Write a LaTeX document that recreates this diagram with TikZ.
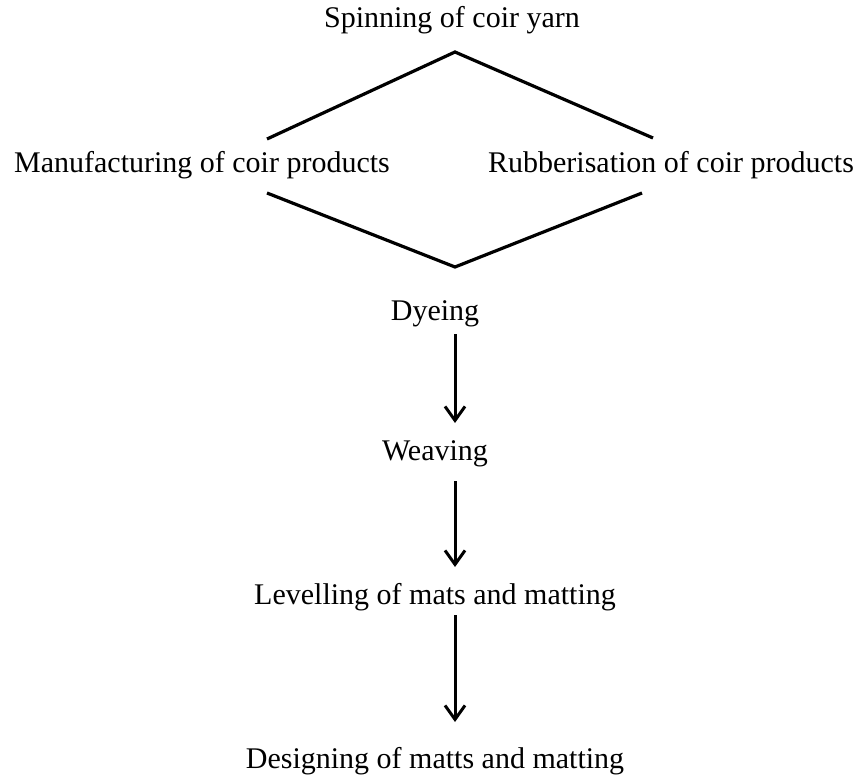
\documentclass[tikz,border=0pt]{standalone}
\usepackage{fontspec}
\setmainfont{Liberation Serif}
\usepackage{tikz}
\usetikzlibrary{arrows.meta}
\usetikzlibrary{positioning}

\begin{document}
\begin{tikzpicture}[x=0.5pt, y=-0.5pt,
  every node/.style = {align=center, inner sep=0pt, anchor=base,
    font=\fontsize{15}{18}\selectfont},
  link/.style = {line width=1.6pt},
  flow/.style = {line width=1.5pt,
    -{Straight Barb[length=7pt, width=10pt, line width=1.5pt]}}]
  \useasboundingbox (0,0) rectangle (860,775);
  % stages
  \node (spin)  at (452,28)  {Spinning of coir yarn};
  \node (manuf) at (202,173) {Manufacturing of coir products};
  \node (rubb)  at (671,173) {Rubberisation of coir products};
  \node (dye)   at (435,320) {Dyeing};
  \node (weave) at (435,460) {Weaving};
  \node (level) at (435,604) {Levelling of mats and matting};
  \node (design) at (435,768) {Designing of matts and matting};
  % diamond corners
  \coordinate (top) at (455,52);
  \coordinate (bot) at (455,267);
  \coordinate (manufup) at (267,139);
  \coordinate (manufdn) at (267,193);
  \coordinate (rubbup) at (653,138);
  \coordinate (rubbdn) at (642,193);
  \draw[link] (manufup) -- (top) -- (rubbup);
  \draw[link] (manufdn) -- (bot) -- (rubbdn);
  % arrows
  \draw[flow, shorten <=7pt, shorten >=18.5pt] (dye.base -| top) -- (weave.base -| top);
  \draw[flow, shorten <=10.5pt, shorten >=18.5pt] (weave.base -| top) -- (level.base -| top);
  \draw[flow, shorten <=5.5pt, shorten >=23pt] (level.base -| top) -- (design.base -| top);
\end{tikzpicture}
\end{document}
